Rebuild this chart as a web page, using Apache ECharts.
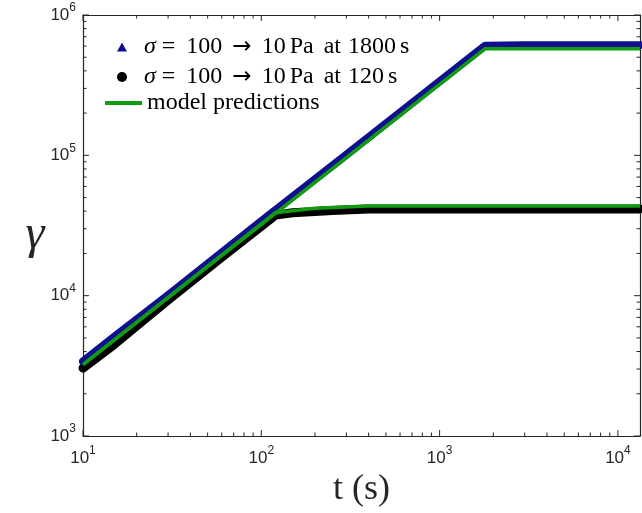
<!DOCTYPE html>
<html><head><meta charset="utf-8">
<script src="https://cdn.jsdelivr.net/npm/echarts@6/dist/echarts.min.js"></script>
<style>html,body{margin:0;padding:0;background:#fff}#c{width:642px;height:513px}</style>
</head><body><div id="c"></div>
<script>
// ---- data ----
const xMajorTicks = [10, 100, 1000, 10000];
const yMajorTicks = [1000, 10000, 100000, 1000000];

const t1800 = [10, 15, 30, 100, 300, 1000, 1800, 3000, 6000, 13300];
const g1800 = [3400, 5100, 10100, 34000, 101000, 337000, 605000, 610000, 610000, 610000];

const t120 = [10, 15, 30, 60, 120, 150, 250, 400, 1000, 13300];
const g120 = [3050, 4500, 9300, 18800, 37500, 39000, 40500, 41500, 41500, 41500];

const tModel1800 = [10, 1800, 13300];
const gModel1800 = [3220, 575000, 575000];

const tModel120 = [10, 120, 200, 400, 13300];
const gModel120 = [3220, 39000, 42000, 43600, 43600];

const name1800 = 'σ = 100 → 10 Pa at 1800 s';
const name120 = 'σ = 100 → 10 Pa at 120 s';
const nameModel = 'model predictions';

// ---- helpers ----
const XMIN = 10, XMAX = 13300, YMIN = 1000, YMAX = 1000000;
const zip = (a, b) => a.map((v, i) => [v, b[i]]);
function minorTicks(lo, hi) {
  const out = [];
  for (let p = lo; p < hi; p++) for (let m = 2; m <= 9; m++) out.push(m * Math.pow(10, p));
  return out;
}
const xMinor = minorTicks(1, 5).filter(v => v < XMAX);
const yMinor = minorTicks(3, 6);
// tick rows: [x, y, length(px), kind(0 = x tick, 1 = y tick)]
const tickRows = [].concat(
  xMajorTicks.map(v => [v, YMIN, 6, 0]), xMinor.map(v => [v, YMIN, 3.5, 0]),
  yMajorTicks.map(v => [XMIN, v, 6, 1]), yMinor.map(v => [XMIN, v, 3.5, 1])
);

const axisColor = '#262626';
const labelRich = {
  b: {fontSize: 17, lineHeight: 26, fontFamily: 'Liberation Sans', color: axisColor},
  s: {fontSize: 12, verticalAlign: 'top', fontFamily: 'Liberation Sans', color: axisColor}
};
const supLabel = v => '{b|10}{s|' + Math.round(Math.log10(v)) + '}';

function logAxis(pos, isX, showLabel, extra) {
  return Object.assign({
    type: 'log', logBase: 10, position: pos,
    min: isX ? XMIN : YMIN, max: isX ? XMAX : YMAX,
    axisLine: {show: true, lineStyle: {color: axisColor, width: 1.2}},
    axisTick: {show: false}, minorTick: {show: false},
    axisLabel: showLabel
      ? {show: true, customValues: isX ? xMajorTicks : yMajorTicks, formatter: supLabel,
         rich: labelRich, margin: isX ? 9 : 7}
      : {show: false},
    splitLine: {show: false}
  }, extra || {});
}

const serif = 'Liberation Serif';
const spacers = {};
[2, 3, 4, 5, 6, 7, 8, 9, 10, 11, 12, 13].forEach(w => { spacers['g' + w] = {width: w}; });
const legendRich = Object.assign({
  it: {fontStyle: 'italic', fontFamily: serif, fontSize: 24, color: '#000'},
  ar: {fontFamily: 'DejaVu Sans', fontSize: 23, color: '#000'}
}, spacers);
function fmtSigma(n) {
  const parts = n.split(' ');
  return '{g12|}{it|σ}{g6|}={g11|}' + parts[2] + '{g10|}{ar|→}{g10|}' + parts[4] +
         '{g4|}' + parts[5] + '{g10|}' + parts[6] + '{g7|}' + parts[7] + '{g4|}' + parts[8];
}
const legendText = {fontFamily: serif, fontSize: 24, color: '#000', lineHeight: 26, rich: legendRich};

function renderTick(params, api) {
  const kind = api.value(3), len = api.value(2);
  const style = {stroke: axisColor, lineWidth: 1};
  if (kind === 0) {
    const b = api.coord([api.value(0), YMIN]), t = api.coord([api.value(0), YMAX]);
    return {type: 'group', children: [
      {type: 'line', shape: {x1: b[0], y1: b[1], x2: b[0], y2: b[1] - len}, style},
      {type: 'line', shape: {x1: t[0], y1: t[1], x2: t[0], y2: t[1] + len}, style}
    ]};
  }
  const l = api.coord([XMIN, api.value(1)]), r = api.coord([XMAX, api.value(1)]);
  return {type: 'group', children: [
    {type: 'line', shape: {x1: l[0], y1: l[1], x2: l[0] + len, y2: l[1]}, style},
    {type: 'line', shape: {x1: r[0], y1: r[1], x2: r[0] - len, y2: r[1]}, style}
  ]};
}

const option = {
  animation: false,
  backgroundColor: '#fff',
  grid: {left: 83, right: 2, top: 15, bottom: 76},
  xAxis: [
    logAxis('bottom', true, true, {
      name: 't (s)', nameLocation: 'middle', nameGap: 36,
      nameTextStyle: {fontFamily: serif, fontSize: 36, color: axisColor}
    }),
    logAxis('top', true, false)
  ],
  yAxis: [
    logAxis('left', false, true, {
      name: 'γ', nameLocation: 'middle', nameGap: 37, nameRotate: 0,
      nameTextStyle: {fontFamily: serif, fontStyle: 'italic', fontSize: 48, color: axisColor,
                      verticalAlign: 'top', lineHeight: 20}
    }),
    logAxis('right', false, false)
  ],
  legend: [
    {data: [{name: name1800, icon: 'triangle'}], left: 112, top: 29, itemWidth: 10, itemHeight: 9,
     itemGap: 0, selectedMode: false, formatter: fmtSigma, textStyle: legendText},
    {data: [{name: name120, icon: 'circle'}], left: 112, top: 59, itemWidth: 10, itemHeight: 10,
     itemGap: 0, selectedMode: false, formatter: fmtSigma, textStyle: legendText},
    {data: [{name: nameModel, icon: 'rect'}], left: 100, top: 85, itemWidth: 37, itemHeight: 4,
     selectedMode: false, textStyle: {fontFamily: serif, fontSize: 24, color: '#000', lineHeight: 26}}
  ],
  series: [
    {type: 'custom', name: 'ticks', renderItem: renderTick, data: tickRows,
     encode: {x: 0, y: 1}, silent: true, clip: false, z: 1},
    {name: name120, type: 'line', data: zip(t120, g120), showSymbol: false, symbol: 'circle',
     itemStyle: {color: '#000'},
     lineStyle: {color: '#000', width: 9, cap: 'round', join: 'round'}},
    {name: name1800, type: 'line', data: zip(t1800, g1800), showSymbol: false, symbol: 'triangle',
     itemStyle: {color: '#10108f'},
     lineStyle: {color: '#10108f', width: 8, cap: 'round', join: 'round'}},
    {name: nameModel, type: 'line', data: zip(tModel1800, gModel1800), showSymbol: false, symbol: 'none',
     itemStyle: {color: '#119b11'},
     lineStyle: {color: '#119b11', width: 3.5, join: 'round'}},
    {name: nameModel, type: 'line', data: zip(tModel120, gModel120), showSymbol: false, symbol: 'none',
     itemStyle: {color: '#119b11'},
     lineStyle: {color: '#119b11', width: 3.5, join: 'round'}}
  ]
};
echarts.init(document.getElementById('c')).setOption(option);
</script></body></html>
